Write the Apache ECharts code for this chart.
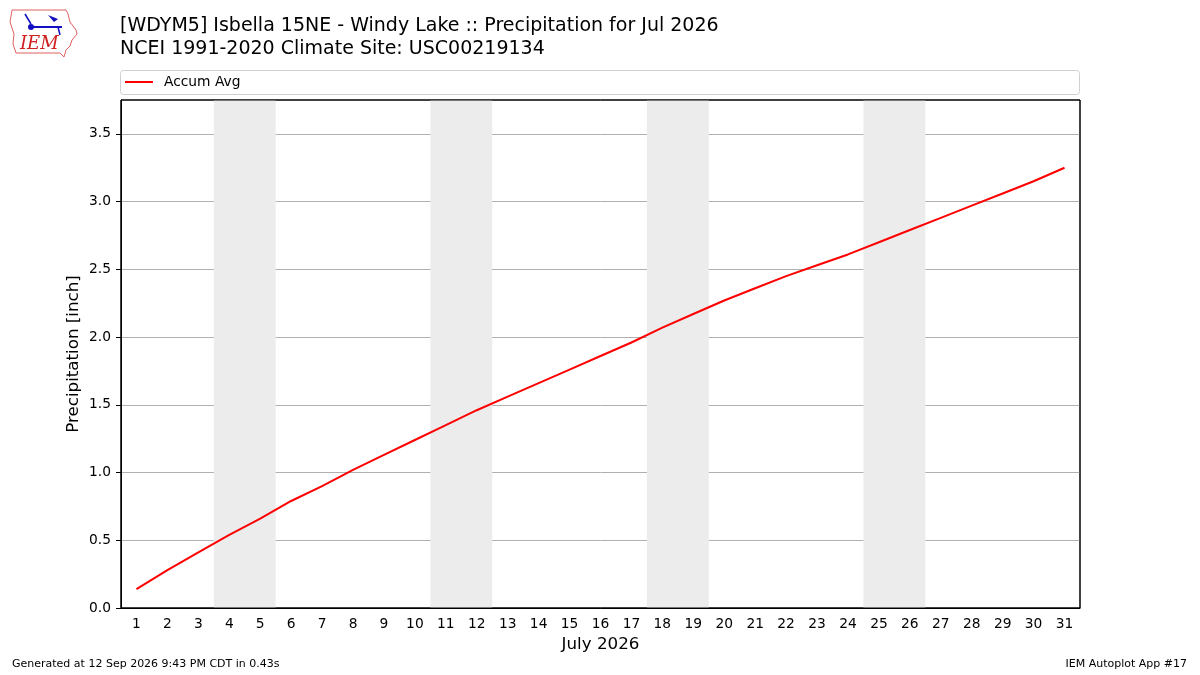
<!DOCTYPE html>
<html>
<head>
<meta charset="utf-8">
<script src="https://cdn.jsdelivr.net/npm/echarts@6/dist/echarts.min.js"></script>
<style>
  html, body { margin: 0; padding: 0; background: #fff; }
  #chart { width: 1200px; height: 675px; }
</style>
</head>
<body>
<div id="chart"></div>
<script>
// day of month labels
var days = ['1','2','3','4','5','6','7','8','9','10','11','12','13','14','15','16',
            '17','18','19','20','21','22','23','24','25','26','27','28','29','30','31'];
// accumulated average precipitation [inch]
var accumAvg = [0.14, 0.28, 0.41, 0.54, 0.66, 0.79, 0.90, 1.02, 1.13, 1.24, 1.35, 1.46,
                1.56, 1.66, 1.76, 1.86, 1.96, 2.07, 2.17, 2.27, 2.36, 2.45, 2.53, 2.61,
                2.70, 2.79, 2.88, 2.97, 3.06, 3.15, 3.25];
// first day (Saturday) of each weekend
var weekendStarts = [4, 11, 18, 25];
// y axis tick values
var yTicks = [0, 0.5, 1.0, 1.5, 2.0, 2.5, 3.0, 3.5];

var lineData = days.map(function (d, i) { return [Number(d), accumAvg[i]]; });
var weekendAreas = weekendStarts.map(function (d) {
    return [{ xAxis: d - 0.5 }, { xAxis: d + 1.5 }];
});

var font = 'DejaVu Sans';

var option = {
    animation: false,
    textStyle: { fontFamily: font },
    title: {
        text: '[WDYM5] Isbella 15NE - Windy Lake :: Precipitation for Jul 2026\nNCEI 1991-2020 Climate Site: USC00219134',
        left: 120,
        top: 15,
        padding: 0,
        textStyle: { fontFamily: font, fontSize: 19, fontWeight: 'normal', color: '#000', lineHeight: 23 }
    },
    legend: {
        left: 125,
        top: 75,
        padding: 0,
        itemWidth: 28,
        itemHeight: 2,
        icon: 'rect',
        textStyle: { fontFamily: font, fontSize: 13.8, color: '#000', padding: [0, 0, 0, 6] },
        data: ['Accum Avg']
    },
    grid: {
        left: 121,
        right: 120,
        top: 100,
        bottom: 67,
        show: true,
        borderColor: '#000',
        borderWidth: 1,
        backgroundColor: 'transparent'
    },
    xAxis: [
        {
            type: 'category',
            data: days,
            boundaryGap: true,
            name: 'July 2026',
            nameLocation: 'middle',
            nameGap: 28,
            nameMoveOverlap: false,
            nameTextStyle: { fontFamily: font, fontSize: 16.7, color: '#000' },
            axisLine: { lineStyle: { color: '#000' } },
            axisTick: { alignWithLabel: true, length: 5, lineStyle: { color: '#000' } },
            axisLabel: { fontFamily: font, fontSize: 13.8, color: '#000', margin: 9, interval: 0 },
            splitLine: { show: false }
        },
        {
            type: 'value',
            min: 0.5,
            max: 31.5,
            show: false,
            splitLine: { show: false }
        }
    ],
    yAxis: {
        type: 'value',
        min: 0,
        max: 3.75,
        interval: 0.5,
        name: 'Precipitation [inch]',
        nameLocation: 'middle',
        nameGap: 39,
        nameMoveOverlap: false,
        nameTextStyle: { fontFamily: font, fontSize: 16.7, color: '#000' },
        axisLine: { show: true, lineStyle: { color: '#000' } },
        axisTick: { show: true, length: 5, customValues: yTicks, lineStyle: { color: '#000' } },
        axisLabel: {
            fontFamily: font, fontSize: 13.8, color: '#000', margin: 10,
            customValues: yTicks,
            formatter: function (v) { return v.toFixed(1); }
        },
        splitLine: { show: true, lineStyle: { color: '#b0b0b0', width: 1 } }
    },
    series: [
        {
            name: 'Accum Avg',
            type: 'line',
            xAxisIndex: 1,
            data: lineData,
            symbol: 'none',
            lineStyle: { color: '#ff0000', width: 2 },
            itemStyle: { color: '#ff0000' },
            z: 3,
            markArea: {
                silent: true,
                itemStyle: { color: '#ececec' },
                data: weekendAreas
            }
        }
    ],
    graphic: [
        // plot frame drawn on top of the weekend shading
        {
            type: 'rect',
            shape: { x: 121, y: 100, width: 959, height: 508 },
            style: { fill: 'none', stroke: '#000', lineWidth: 1 },
            z: 100,
            silent: true
        },
        // legend box
        {
            type: 'rect',
            shape: { x: 120.5, y: 70.5, width: 959, height: 24, r: 3 },
            style: { fill: 'none', stroke: '#d0d0d0', lineWidth: 1 },
            z: -1
        },
        {
            type: 'text',
            left: 12, top: 659,
            style: { text: 'Generated at 12 Sep 2026 9:43 PM CDT in 0.43s', font: '11px "DejaVu Sans"', fill: '#000' }
        },
        {
            type: 'text',
            right: 13, top: 659,
            style: { text: 'IEM Autoplot App #17', font: '11px "DejaVu Sans"', fill: '#000' }
        },
        // rough IEM logo
        {
            type: 'polyline',
            shape: { points: [[12,10],[66,10],[68,14],[70,22],[76,30],[77,34],[72,40],[70,46],[66,50],[64,57],[60,53],[16,53],[13,44],[14,34],[10,22],[12,10]] },
            style: { stroke: '#e06060', lineWidth: 1, fill: 'none' }
        },
        {
            type: 'group',
            children: [
                { type: 'line', shape: { x1: 31, y1: 27, x2: 62, y2: 27 }, style: { stroke: '#1010c0', lineWidth: 2 } },
                { type: 'circle', shape: { cx: 31, cy: 27, r: 3 }, style: { fill: '#1010c0' } },
                { type: 'line', shape: { x1: 25, y1: 14, x2: 31, y2: 24 }, style: { stroke: '#1010c0', lineWidth: 1.5 } },
                { type: 'polygon', shape: { points: [[48,15],[58,19],[54,22]] }, style: { fill: '#1010c0' } },
                { type: 'line', shape: { x1: 58, y1: 27, x2: 60, y2: 35 }, style: { stroke: '#1010c0', lineWidth: 1.5 } }
            ]
        },
        {
            type: 'text',
            left: 20, top: 35,
            style: { text: 'IEM', font: 'italic 18px "DejaVu Serif"', fill: '#d02020' }
        }
    ]
};

var myChart = echarts.init(document.getElementById('chart'));
myChart.setOption(option);
</script>
</body>
</html>
